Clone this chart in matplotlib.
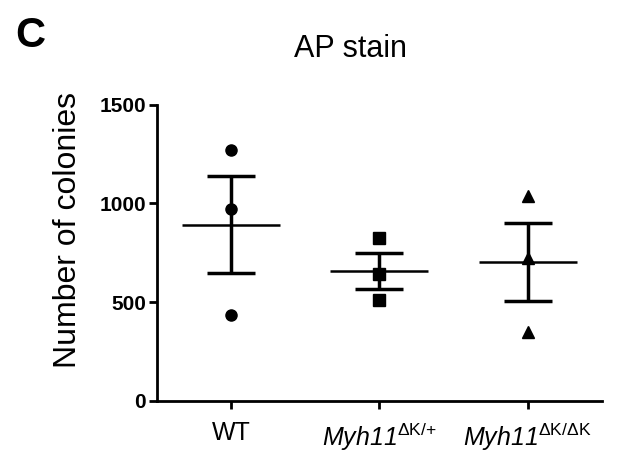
"""
AP stain colony counts: individual points with mean +/- SEM
"""
import numpy as np
import matplotlib
matplotlib.use("Agg")
import matplotlib.pyplot as plt

plt.rcParams['font.family'] = ['Liberation Sans', 'DejaVu Sans']
plt.rcParams['mathtext.fontset'] = 'custom'
plt.rcParams['mathtext.rm'] = 'Liberation Sans'
plt.rcParams['mathtext.it'] = 'Liberation Sans:italic'
# italic font for the gene name, digits included
plt.rcParams['mathtext.sf'] = 'Liberation Sans:italic'

# data
groups = ["WT", r"$\mathsf{Myh11}^{\mathrm{\Delta K/{+}}}$", r"$\mathsf{Myh11}^{\mathrm{\Delta K/\Delta K}}$"]
wt = [1271, 973, 434]
dk_het = [826, 640, 510]
dk_hom = [1037, 722, 350]
markers = ["o", "s", "^"]
msizes = [8, 8.6, 8.6]
yticks = [0, 500, 1000, 1500]


def plot_data(samples):
    fig = plt.figure(figsize=(6.21, 4.55), dpi=100)
    ax = fig.add_axes([0.2523, 0.1193, 0.7167, 0.6506])

    for i, vals in enumerate(samples):
        vals = np.array(vals, dtype=float)
        mean = vals.mean()
        sem = vals.std(ddof=1) / np.sqrt(len(vals))
        ax.plot([i] * len(vals), vals, linestyle="none", marker=markers[i],
                ms=msizes[i], color="black", zorder=3)
        ax.hlines(mean, i - 0.33, i + 0.33, color="black", lw=1.8, zorder=4)
        ax.errorbar(i, mean, yerr=sem, fmt="none", ecolor="black",
                    elinewidth=2.5, capsize=17.3, capthick=2.5, zorder=4)

    ax.set_xlim(-0.5, 2.5)
    ax.set_ylim(0, 1500)
    ax.set_xticks(range(len(groups)))
    ax.set_xticklabels(groups, fontsize=18)
    ax.set_yticks(yticks)
    ax.set_yticklabels([str(t) for t in yticks], fontsize=15, fontweight="bold")

    for side in ["top", "right"]:
        ax.spines[side].set_visible(False)
    for side in ["left", "bottom"]:
        ax.spines[side].set_linewidth(2)
    ax.tick_params(axis="both", width=2, length=5.8)
    ax.tick_params(axis="x", pad=9)
    ax.tick_params(axis="y", pad=2)

    fig.text(0.5644, 0.874, "AP stain", fontsize=22, ha="center", va="baseline")
    fig.text(0.024, 0.8967, "C", fontsize=30, fontweight="bold", va="baseline")
    fig.text(0.110, 0.495, "Number of colonies", fontsize=23, rotation=90,
             ha="center", va="center")

    fig.savefig("out.png", dpi=100)


def main():
    plot_data([wt, dk_het, dk_hom])


if __name__ == "__main__":
    main()
